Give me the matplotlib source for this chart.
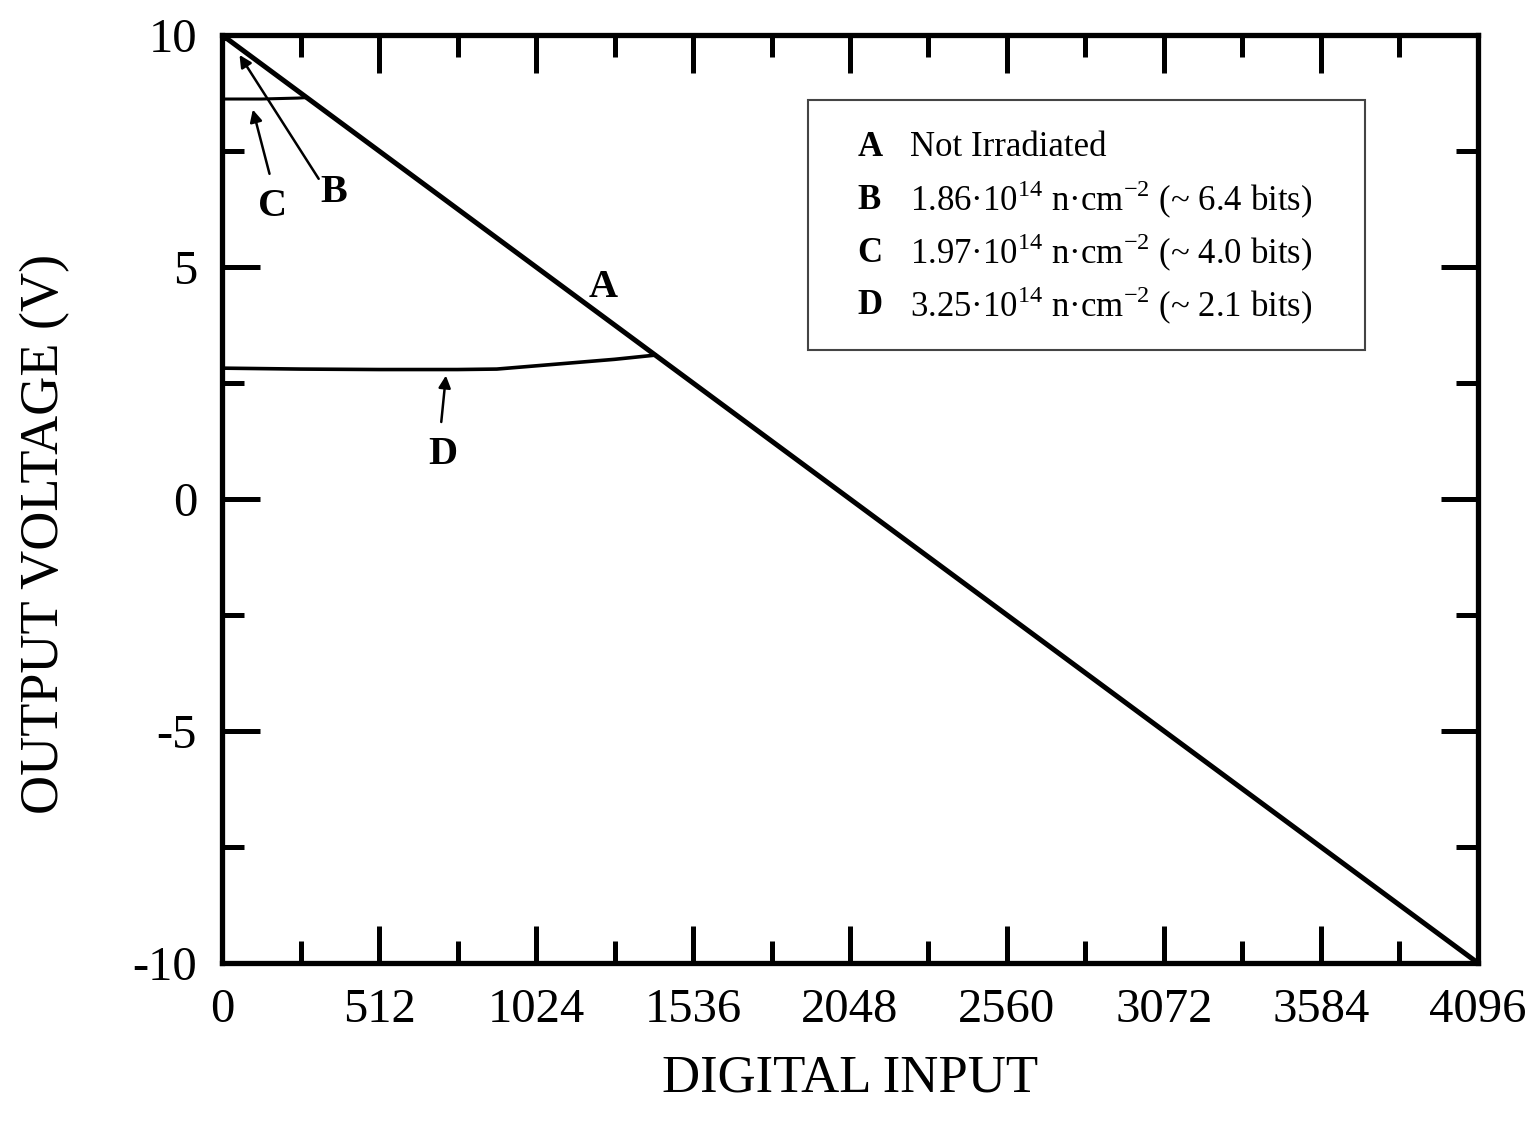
import numpy as np
import matplotlib
matplotlib.use("Agg")
import matplotlib.pyplot as plt
from matplotlib.patches import Rectangle
from matplotlib.ticker import MultipleLocator

plt.rcParams['font.family'] = ['Liberation Serif', 'DejaVu Serif']
plt.rcParams['mathtext.fontset'] = 'custom'
plt.rcParams['mathtext.rm'] = 'Liberation Serif'
plt.rcParams['axes.unicode_minus'] = False

# curve A: ideal transfer, full scale
a_x = [0, 4096]
a_y = [10, -10]

# curve B: saturates just below the top
b_x = [0, 16]
b_y = [9.92, 9.92]

# curve C: flat plateau then joins A
c_x = [0, 128, 245, 276]
c_y = [8.62, 8.62, 8.64, 8.65]

# curve D: low plateau, slight rise, then joins A
d_x = [0, 256, 512, 768, 896, 1024, 1152, 1280, 1412]
d_y = [2.82, 2.80, 2.79, 2.79, 2.80, 2.87, 2.94, 3.01, 3.10]

legend_keys = ['A', 'B', 'C', 'D']
legend_txt = ['Not Irradiated',
              r'1.86·10$^{14}$ n·cm$^{-2}$ (~ 6.4 bits)',
              r'1.97·10$^{14}$ n·cm$^{-2}$ (~ 4.0 bits)',
              r'3.25·10$^{14}$ n·cm$^{-2}$ (~ 2.1 bits)']

fig = plt.figure(figsize=(15.4, 11.25), dpi=100)
ax = fig.add_axes([0.1442, 0.144, 0.8155, 0.8249])

ax.plot(a_x, a_y, color='black', lw=3.6)
ax.plot(b_x, b_y, color='black', lw=2.2)
ax.plot(c_x, c_y, color='black', lw=2.2)
ax.plot(d_x, d_y, color='black', lw=2.6)

ax.set_xlim(0, 4096)
ax.set_ylim(-10, 10)
ax.xaxis.set_major_locator(MultipleLocator(512))
ax.xaxis.set_minor_locator(MultipleLocator(256))
ax.yaxis.set_major_locator(MultipleLocator(5))
ax.yaxis.set_minor_locator(MultipleLocator(2.5))
ax.tick_params(which='both', direction='in', top=True, right=True, width=3.6)
ax.tick_params(which='major', length=27, labelsize=35, pad=18)
ax.tick_params(which='minor', length=16)
for s in ax.spines.values():
    s.set_linewidth(3.8)

ax.set_xlabel('DIGITAL INPUT', fontsize=38, labelpad=16)
ax.set_ylabel('OUTPUT VOLTAGE (V)', fontsize=39, labelpad=45)
ax.yaxis.label.set_y(0.462)

# curve labels and arrows
ax.text(1243, 4.55, 'A', fontsize=29, fontweight='bold', ha='center', va='center')
ax.text(365, 6.6, 'B', fontsize=29, fontweight='bold', ha='center', va='center')
ax.text(165, 6.3, 'C', fontsize=29, fontweight='bold', ha='center', va='center')
ax.text(720, 0.95, 'D', fontsize=29, fontweight='bold', ha='center', va='center')
arr = dict(arrowstyle='-|>', color='black', lw=1.8, mutation_scale=18)
ax.annotate('', xy=(52, 9.62), xytext=(320, 6.85), arrowprops=arr)
ax.annotate('', xy=(98, 8.45), xytext=(157, 6.95), arrowprops=arr)
ax.annotate('', xy=(731, 2.72), xytext=(714, 1.6), arrowprops=arr)

# legend box
ax.add_patch(Rectangle((0.4666, 0.6606), 0.4434, 0.2694, transform=ax.transAxes,
                       fill=False, edgecolor='#444444', lw=1.5))
rows = [0.879, 0.822, 0.765, 0.708]
for k, t, yy in zip(legend_keys, legend_txt, rows):
    ax.text(0.506, yy, k, transform=ax.transAxes, fontsize=25, fontweight='bold',
            va='center', ha='left')
    ax.text(0.548, yy, t, transform=ax.transAxes, fontsize=25, va='center', ha='left')

fig.savefig('out.png', dpi=100)
